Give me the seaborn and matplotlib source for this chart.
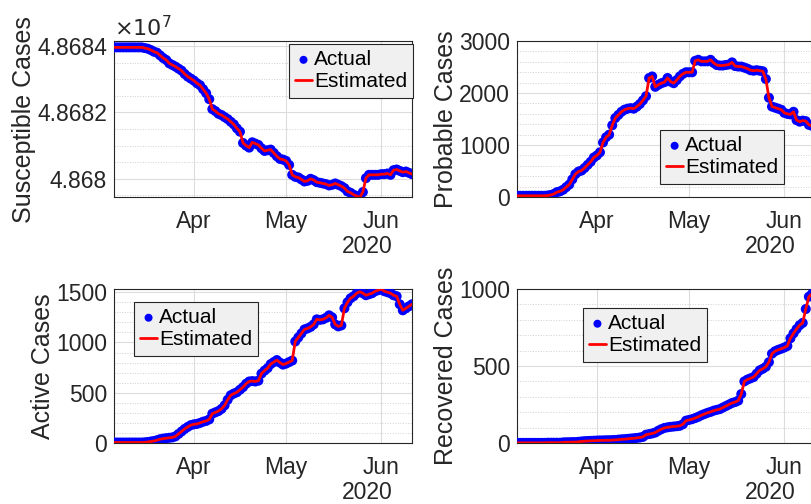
import pandas as pd
import numpy as np
import matplotlib
matplotlib.use("Agg")
import matplotlib.pyplot as plt
import matplotlib.dates as mdates
from matplotlib.ticker import FuncFormatter, MultipleLocator
import seaborn as sns

# daily data, 6 Mar 2020 - 11 Jun 2020
dates = pd.date_range("2020-03-06", "2020-06-11", freq="D")

susceptible = [
    48683960, 48683960, 48683960, 48683960, 48683960, 48683960, 48683960, 48683960, 48683960, 48683960,
    48683940, 48683920, 48683880, 48683830, 48683800, 48683720, 48683640, 48683580, 48683480, 48683430,
    48683380, 48683320, 48683260, 48683160, 48683080, 48683020, 48682960, 48682880, 48682820, 48682700,
    48682580, 48682400, 48682100, 48682040, 48681960, 48681920, 48681860, 48681800, 48681720, 48681640,
    48681520, 48681420, 48681080, 48681000, 48680940, 48681100, 48681060, 48681020, 48680920, 48680840,
    48680860, 48680880, 48680780, 48680680, 48680600, 48680580, 48680540, 48680420, 48680120, 48680060,
    48680040, 48679980, 48679920, 48679940, 48680000, 48679960, 48679900, 48679880, 48679860, 48679840,
    48679800, 48679820, 48679860, 48679820, 48679780, 48679720, 48679620, 48679580, 48679520, 48679480,
    48679440, 48679600, 48680020, 48680120, 48680120, 48680120, 48680120, 48680140, 48680140, 48680160,
    48680120, 48680260, 48680280, 48680240, 48680200, 48680220, 48680180, 48680140,
]

probable = [
    25, 25, 25, 25, 25, 25, 25, 25, 25, 25,
    30, 40, 60, 95, 110, 140, 190, 240, 340, 440,
    490, 510, 560, 620, 680, 760, 800, 860, 1050, 1150,
    1200, 1380, 1520, 1580, 1640, 1680, 1700, 1710, 1700, 1740,
    1790, 1860, 1940, 2290, 2320, 2120, 2160, 2190, 2210, 2290,
    2220, 2190, 2250, 2320, 2370, 2400, 2400, 2400, 2620, 2640,
    2610, 2610, 2610, 2640, 2580, 2540, 2530, 2530, 2540, 2550,
    2590, 2520, 2510, 2510, 2490, 2470, 2440, 2430, 2440, 2430,
    2420, 2270, 1910, 1740, 1720, 1700, 1680, 1620, 1600, 1590,
    1640, 1480, 1450, 1470, 1460, 1390, 1370, 1350,
]

active = [
    5, 5, 5, 5, 5, 5, 5, 5, 5, 5,
    7, 10, 15, 20, 28, 38, 44, 48, 52, 56,
    66, 90, 115, 140, 160, 178, 186, 190, 200, 212,
    220, 235, 292, 305, 318, 340, 375, 430, 475, 492,
    505, 530, 556, 590, 612, 616, 612, 620, 690, 720,
    745, 785, 805, 825, 800, 780, 790, 805, 820, 1010,
    1050, 1090, 1130, 1140, 1155, 1180, 1230, 1225, 1230, 1245,
    1270, 1250, 1180, 1160, 1170, 1340, 1400, 1440, 1460, 1490,
    1505, 1490, 1470, 1480, 1490, 1510, 1520, 1530, 1510, 1500,
    1490, 1470, 1460, 1380, 1320, 1340, 1360, 1380,
]

recovered = [
    1, 1, 1, 1, 1, 1, 1, 1, 1, 1,
    2, 2, 2, 2, 2, 4, 5, 5, 6, 6,
    8, 10, 12, 13, 14, 15, 16, 17, 17, 18,
    18, 19, 20, 22, 24, 25, 27, 29, 31, 33,
    36, 40, 54, 58, 62, 68, 80, 90, 98, 102,
    105, 107, 109, 112, 122, 145, 150, 155, 162, 170,
    180, 188, 196, 202, 210, 215, 220, 230, 240, 250,
    260, 266, 275, 318, 400, 412, 420, 428, 450, 472,
    482, 495, 525, 580, 596, 605, 612, 620, 630, 680,
    712, 740, 765, 780, 870, 950, 968, 1000,
]

panels = [
    ("Susceptible Cases", susceptible, (48679450, 48684150), 2000, 500, (0.587, 0.981)),
    ("Probable Cases", probable, (0, 3000), 1000, 200, (0.48, 0.43)),
    ("Active Cases", active, (0, 1532), 500, 100, (0.067, 0.916)),
    ("Recovered Cases", recovered, (0, 1000), 500, 100, (0.221, 0.877)),
]

sns.set_style("white")
plt.rcParams["font.family"] = ["Liberation Sans", "DejaVu Sans"]
dark = "#262626"

fig = plt.figure(figsize=(8.12, 5.04), dpi=100)
positions = [
    [0.1404, 0.609, 0.367, 0.3095],
    [0.6367, 0.609, 0.367, 0.3095],
    [0.1404, 0.121, 0.367, 0.3056],
    [0.6367, 0.121, 0.367, 0.3056],
]

for pos, (label, values, ylim, major, minor, leg_at) in zip(positions, panels):
    ax = fig.add_axes(pos)
    df = pd.DataFrame({"date": dates, "value": values})
    sns.scatterplot(data=df, x="date", y="value", ax=ax, color="blue", s=52,
                    edgecolor="none", label="Actual", zorder=3)
    sns.lineplot(data=df, x="date", y="value", ax=ax, color="red", lw=2,
                 label="Estimated", zorder=4)

    ax.set_xlim(dates[0], dates[-1])
    ax.set_ylim(*ylim)
    ax.set_xlabel("")
    ax.set_ylabel(label, fontsize=18, color=dark, labelpad=1)

    ax.xaxis.set_major_locator(mdates.MonthLocator(bymonth=[4, 5, 6]))
    ax.xaxis.set_major_formatter(mdates.DateFormatter("%b"))
    ax.yaxis.set_major_locator(MultipleLocator(major))
    ax.yaxis.set_minor_locator(MultipleLocator(minor))
    if label == "Susceptible Cases":
        ax.yaxis.set_major_formatter(FuncFormatter(lambda v, p: f"{v / 1e7:g}"))
        ax.text(0.0, 1.0, r"$\times10^{7}$", transform=ax.transAxes, fontsize=16,
                color=dark, ha="left", va="bottom")

    ax.tick_params(axis="both", which="both", direction="in", labelsize=16.5,
                   colors=dark, length=4, width=0.8)
    ax.tick_params(axis="y", which="minor", length=0)
    ax.tick_params(axis="y", pad=5)
    ax.tick_params(axis="x", pad=9)
    ax.grid(True, which="major", color="#dcdcdc", lw=0.8)
    ax.grid(True, which="minor", axis="y", color="#d0d0d0", lw=0.7, ls=":")
    for s in ax.spines.values():
        s.set_color(dark)
        s.set_linewidth(0.8)
    ax.text(0.85, -0.32, "2020", transform=ax.transAxes, fontsize=16.5, color=dark,
            ha="center", va="center")

    # MATLAB-like legend box
    leg = ax.legend(loc="upper left", bbox_to_anchor=leg_at, borderaxespad=0,
                    fontsize=15, frameon=True, fancybox=False, handlelength=0.8,
                    handletextpad=0.1, borderpad=0.3, labelspacing=0.15,
                    markerscale=0.8)
    leg.get_frame().set_facecolor("#f0f0f0")
    leg.get_frame().set_edgecolor(dark)
    leg.get_frame().set_linewidth(0.8)
    leg.get_frame().set_alpha(1)
    for t in leg.get_texts():
        t.set_color("black")

fig.savefig("out.png", dpi=100)
